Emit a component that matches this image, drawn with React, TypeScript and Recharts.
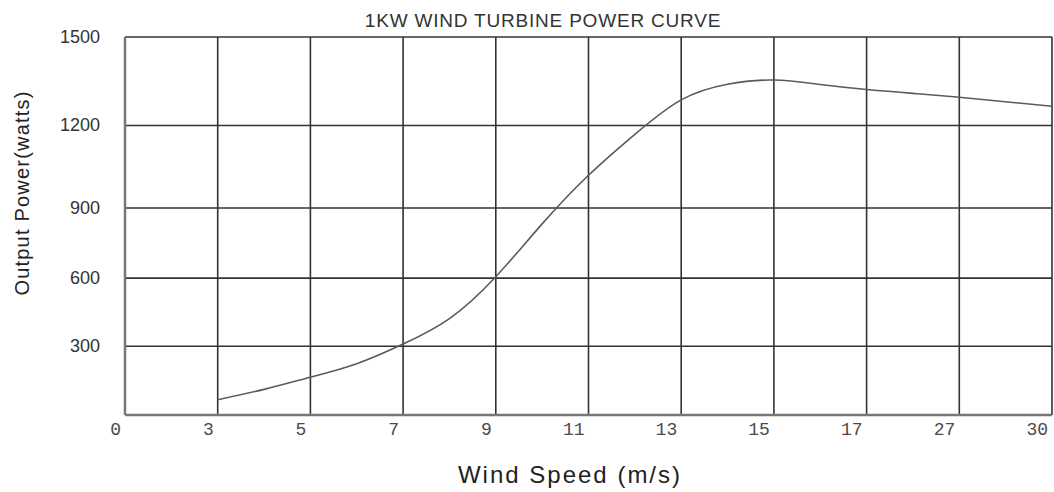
import React from 'react';
import { LineChart, Line, XAxis, YAxis, CartesianGrid, Label } from 'recharts';

// ---- data ----
const windSpeeds = [3, 4, 5, 6, 7, 8, 9, 10, 11, 12, 13, 14, 15, 16, 17, 22, 27, 30];
const outputPower = [67, 112, 165, 224, 310, 422, 606, 832, 1019, 1168, 1287, 1340, 1354, 1339, 1322, 1309, 1296, 1265];
const xTickValues = [0, 3, 5, 7, 9, 11, 13, 15, 17, 27, 30];
const yTickValues = [0, 300, 600, 900, 1200, 1500];

const chartTitle = '1KW WIND TURBINE POWER CURVE';
const xAxisTitle = 'Wind Speed (m/s)';
const yAxisTitle = 'Output Power(watts)';

const data = windSpeeds.map((s, i) => ({ speed: s, power: outputPower[i] }));

// ---- piecewise axis scales (the reference axes are not linear) ----
const xStopFractions = xTickValues.map((_, i) => i / (xTickValues.length - 1));
const yStopFractions = [0, 0.1817, 0.3622, 0.5476, 0.7659, 1];

function makePiecewiseScale(stops: number[], fracs: number[], dom?: any[], rng?: number[]): any {
  let d: any[] = dom ? dom.slice() : [stops[0], stops[stops.length - 1]];
  let r: number[] = rng ? rng.slice() : [0, 1];
  const toFrac = (v: number) => {
    const n = stops.length - 1;
    if (v <= stops[0]) return fracs[0] + ((v - stops[0]) / (stops[1] - stops[0])) * (fracs[1] - fracs[0]);
    for (let i = 1; i <= n; i++) {
      if (v <= stops[i]) {
        const t = (v - stops[i - 1]) / (stops[i] - stops[i - 1]);
        return fracs[i - 1] + t * (fracs[i] - fracs[i - 1]);
      }
    }
    return fracs[n] + ((v - stops[n]) / (stops[n] - stops[n - 1])) * (fracs[n] - fracs[n - 1]);
  };
  const fromFrac = (f: number) => {
    const n = stops.length - 1;
    for (let i = 1; i <= n; i++) {
      if (f <= fracs[i] || i === n) {
        const t = (f - fracs[i - 1]) / (fracs[i] - fracs[i - 1]);
        return stops[i - 1] + t * (stops[i] - stops[i - 1]);
      }
    }
    return stops[n];
  };
  const s: any = (v: any) => {
    if (v === null || v === undefined) return undefined;
    const n = Number(v);
    if (Number.isNaN(n)) return undefined;
    return r[0] + toFrac(n) * (r[1] - r[0]);
  };
  s.domain = (x?: any) => {
    if (x === undefined) return d.slice();
    d = Array.from(x);
    return s;
  };
  s.range = (x?: any) => {
    if (x === undefined) return r.slice();
    r = Array.from(x).map(Number);
    return s;
  };
  s.copy = () => makePiecewiseScale(stops, fracs, d, r);
  s.ticks = () => stops.slice();
  s.tickFormat = () => (v: any) => String(v);
  s.nice = () => s;
  s.clamp = () => s;
  s.invert = (px: number) => fromFrac((px - r[0]) / (r[1] - r[0]));
  return s;
}

const xScale = makePiecewiseScale(xTickValues, xStopFractions);
const yScale = makePiecewiseScale(yTickValues, yStopFractions);

const XTick = (props: any) => {
  const { x, y, payload } = props;
  return (
    <text x={x - 4} y={y + 20} textAnchor="end" fontFamily="'Liberation Mono', 'Courier New', monospace" fontSize={18} fill="#4a4a4a">
      {payload.value}
    </text>
  );
};

const YTick = (props: any) => {
  const { x, y, payload } = props;
  if (payload.value === 0) return <g />;
  return (
    <text x={x} y={y} textAnchor="end" dominantBaseline="central" fontFamily="'Liberation Sans', Arial, sans-serif" fontSize={18} fill="#333">
      {payload.value}
    </text>
  );
};

export default function App() {
  return (
    <div style={{ position: 'absolute', left: 0, top: 0, width: 1054, height: 492, background: '#fff' }}>
      <div
        style={{
          position: 'absolute',
          left: 0,
          top: 11,
          width: 1086,
          textAlign: 'center',
          fontFamily: "'Liberation Sans', Arial, sans-serif",
          fontSize: 19,
          lineHeight: '19px',
          letterSpacing: 0.8,
          color: '#333',
          whiteSpace: 'nowrap',
        }}
      >
        {chartTitle}
      </div>
      <LineChart width={1054} height={492} data={data} margin={{ top: 37, right: 2, bottom: 0, left: 0 }}>
        <CartesianGrid stroke="#333" strokeWidth={1.6} />
        <XAxis
          dataKey="speed"
          type="number"
          scale={xScale}
          domain={[0, 30]}
          ticks={xTickValues}
          interval={0}
          height={77}
          tickSize={0}
          tickMargin={0}
          tickLine={false}
          axisLine={{ stroke: '#777', strokeWidth: 2.5 }}
          tick={<XTick />}
        >
          <Label
            content={() => (
              <text x={570} y={483} textAnchor="middle" fontFamily="'Liberation Sans', Arial, sans-serif" fontSize={24} letterSpacing={2} fill="#222">
                {xAxisTitle}
              </text>
            )}
          />
        </XAxis>
        <YAxis
          type="number"
          scale={yScale}
          domain={[0, 1500]}
          ticks={yTickValues}
          interval={0}
          width={125}
          tickSize={0}
          tickMargin={25}
          tickLine={false}
          axisLine={{ stroke: '#777', strokeWidth: 2.5 }}
          tick={<YTick />}
        >
          <Label
            content={() => (
              <text x={22} y={193} transform="rotate(-90 22 193)" textAnchor="middle" dominantBaseline="central" fontFamily="'Liberation Sans', Arial, sans-serif" fontSize={20} letterSpacing={1.2} fill="#222">
                {yAxisTitle}
              </text>
            )}
          />
        </YAxis>
        <Line
          type="natural"
          dataKey="power"
          stroke="#5a5a5a"
          strokeWidth={1.6}
          dot={false}
          activeDot={false}
          isAnimationActive={false}
        />
      </LineChart>
    </div>
  );
}
